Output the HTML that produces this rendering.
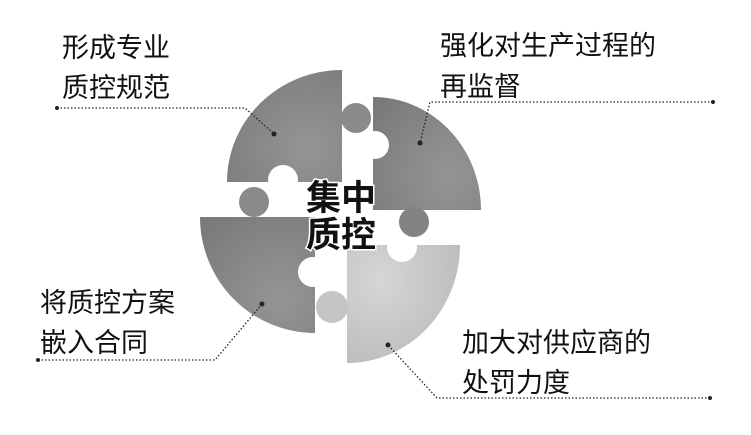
<!DOCTYPE html>
<html><head><meta charset="utf-8"><style>
html,body{margin:0;padding:0;background:#fff;width:751px;height:435px;overflow:hidden}
svg{display:block}
text{font-family:"Liberation Sans","Noto Sans CJK SC",sans-serif;fill:#111}
</style></head><body>
<svg width="751" height="435" viewBox="0 0 751 435">
<defs>
<radialGradient id="g1" cx="0.7" cy="0.7" r="0.9"><stop offset="0" stop-color="#959595"/><stop offset="1" stop-color="#7a7a7a"/></radialGradient>
<radialGradient id="g2" cx="0.3" cy="0.3" r="0.9"><stop offset="0" stop-color="#d6d6d6"/><stop offset="1" stop-color="#b8b8b8"/></radialGradient>
</defs>
<!-- sectors -->
<path d="M342,182 L342,70 A115,112 0 0 0 227,182 Z" fill="url(#g1)"/>
<path d="M373,210 L373,97 A108,113 0 0 1 481,210 Z" fill="url(#g1)"/>
<path d="M315,217 L200,217 A115,116 0 0 0 315,333 Z" fill="url(#g1)"/>
<path d="M347,245 L460,245 A113,118 0 0 1 347,363 Z" fill="url(#g2)"/>
<!-- notches -->
<circle cx="283" cy="180" r="15" fill="#fff"/>
<circle cx="375" cy="145" r="14" fill="#fff"/>
<circle cx="313" cy="272" r="15" fill="#fff"/>
<circle cx="402" cy="247" r="15" fill="#fff"/>
<!-- tabs -->
<circle cx="356" cy="118" r="15" fill="#8a8a8a"/>
<circle cx="414" cy="222" r="15" fill="#838383"/>
<circle cx="254" cy="202" r="15" fill="#8a8a8a"/>
<circle cx="332" cy="307" r="16" fill="#c4c4c4"/>
<!-- connectors -->
<g fill="none" stroke="#222" stroke-width="1.3" stroke-dasharray="1.5 2">
<polyline points="57,108 245,108 274,134"/>
<polyline points="713,102 430,102 420,143"/>
<polyline points="38,360 215,360 262,304"/>
<polyline points="710,398 437,398 388,345"/>
</g>
<g fill="#222">
<circle cx="57" cy="108" r="2"/><circle cx="274" cy="134" r="2.5"/>
<circle cx="713" cy="102" r="2"/><circle cx="420" cy="143" r="2.5"/>
<circle cx="38" cy="360" r="2"/><circle cx="262" cy="304" r="2.5"/>
<circle cx="710" cy="398" r="2"/><circle cx="388" cy="345" r="2.5"/>
</g>
<g font-size="27">
<text x="62" y="57">形成专业</text>
<text x="62" y="97">质控规范</text>
<text x="440" y="55">强化对生产过程的</text>
<text x="440" y="96">再监督</text>
<text x="40" y="312">将质控方案</text>
<text x="40" y="352">嵌入合同</text>
<text x="462" y="352">加大对供应商的</text>
<text x="462" y="392">处罚力度</text>
</g>
<g font-size="35" font-weight="bold" style="paint-order:stroke" stroke="#fff" stroke-width="3">
<text x="306" y="210">集中</text>
<text x="306" y="247">质控</text>
</g>
</svg>
</body></html>
